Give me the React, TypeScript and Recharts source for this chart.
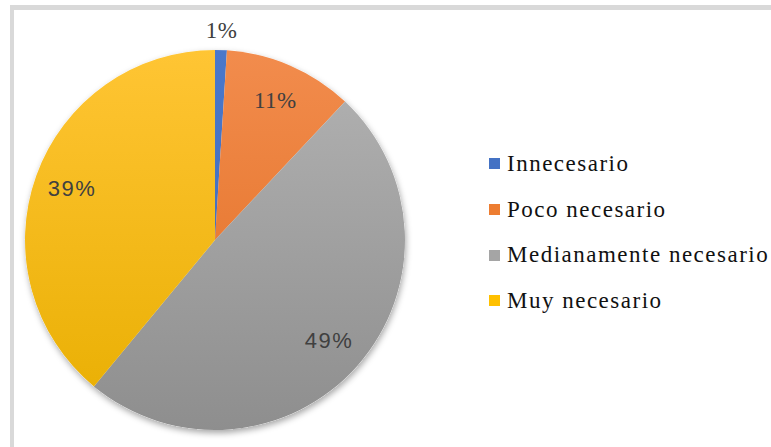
import React from "react";
import { PieChart, Pie, Cell, Legend } from "recharts";

const categories = ["Innecesario", "Poco necesario", "Medianamente necesario", "Muy necesario"];
const shares = [1, 11, 49, 39];
const baseColors = ["#4472C4", "#ED7D31", "#A5A5A5", "#FFC000"];
const topColors = ["#4A78CB", "#F28C4D", "#B3B3B3", "#FFC534"];
const bottomColors = ["#3E68B5", "#E06C1F", "#8E8E8E", "#E8AE00"];

const SERIF = '"Liberation Serif", serif';
const SANS = "Liberation Sans, Arial, sans-serif";
const labelFonts = [SERIF, SERIF, SANS, SANS];

const data = categories.map((name, i) => ({ name, value: shares[i] }));

const RAD = Math.PI / 180;

const renderLabel = (props: any) => {
  const { cx, cy, midAngle, outerRadius, index, percent } = props;
  const r = index === 0 ? outerRadius + 20 : outerRadius * 0.8;
  const x = cx + r * Math.cos(-midAngle * RAD);
  const y = cy + r * Math.sin(-midAngle * RAD);
  const serif = index < 2;
  return (
    <text
      x={x}
      y={y}
      textAnchor="middle"
      dominantBaseline="central"
      fill="#404040"
      style={{ fontFamily: labelFonts[index], fontSize: serif ? 23 : 22, letterSpacing: serif ? 0.5 : 1.5 }}
    >
      {`${Math.round(percent * 100)}%`}
    </text>
  );
};

const renderLegend = () => (
  <div style={{ fontFamily: SERIF, fontSize: 23, color: "#111" }}>
    {categories.map((c, i) => (
      <div key={c} style={{ display: "flex", alignItems: "center", height: 45.7, whiteSpace: "nowrap" }}>
        <span style={{ display: "inline-block", width: 11, height: 11, background: baseColors[i], marginRight: 7 }} />
        <span style={{ letterSpacing: 1.5 }}>{c}</span>
      </div>
    ))}
  </div>
);

export default function App() {
  return (
    <div style={{ position: "absolute", left: 0, top: 0, width: 771, height: 447, background: "#fff", overflow: "hidden" }}>
      <div
        style={{
          position: "absolute",
          left: 10,
          top: 5,
          width: 800,
          height: 500,
          borderTop: "5px solid #d9d9d9",
          borderLeft: "4px solid #d9d9d9",
          boxSizing: "border-box",
        }}
      />
      <div style={{ position: "absolute", left: 0, top: 0 }}>
        <PieChart width={771} height={447} margin={{ top: 0, right: 0, bottom: 0, left: 0 }}>
          <defs>
            {baseColors.map((c, i) => (
              <linearGradient key={c} id={`grad${i}`} gradientUnits="userSpaceOnUse" x1="0" y1="50" x2="0" y2="430">
                <stop offset="0%" stopColor={topColors[i]} />
                <stop offset="100%" stopColor={bottomColors[i]} />
              </linearGradient>
            ))}
            <filter id="pieShadow" x="-20%" y="-20%" width="140%" height="140%">
              <feDropShadow dx="1" dy="3" stdDeviation="3" floodColor="#000" floodOpacity="0.35" />
            </filter>
          </defs>
          <Pie
            data={data}
            dataKey="value"
            cx={215}
            cy={240}
            outerRadius={190}
            startAngle={90}
            endAngle={-270}
            stroke="none"
            isAnimationActive={false}
            legendType="none"
            style={{ filter: "url(#pieShadow)" }}
          >
            {data.map((_, i) => (
              <Cell key={`s-${i}`} fill="#ffffff" />
            ))}
          </Pie>
          <Pie
            data={data}
            dataKey="value"
            cx={215}
            cy={240}
            outerRadius={190}
            startAngle={90}
            endAngle={-270}
            stroke="none"
            label={renderLabel}
            labelLine={false}
            isAnimationActive={false}
          >
            {data.map((_, i) => (
              <Cell key={`c-${i}`} fill={`url(#grad${i})`} />
            ))}
          </Pie>
          <Legend
            content={renderLegend}
            wrapperStyle={{ position: "absolute", left: 489, top: 141, width: 290 }}
          />
        </PieChart>
      </div>
    </div>
  );
}
